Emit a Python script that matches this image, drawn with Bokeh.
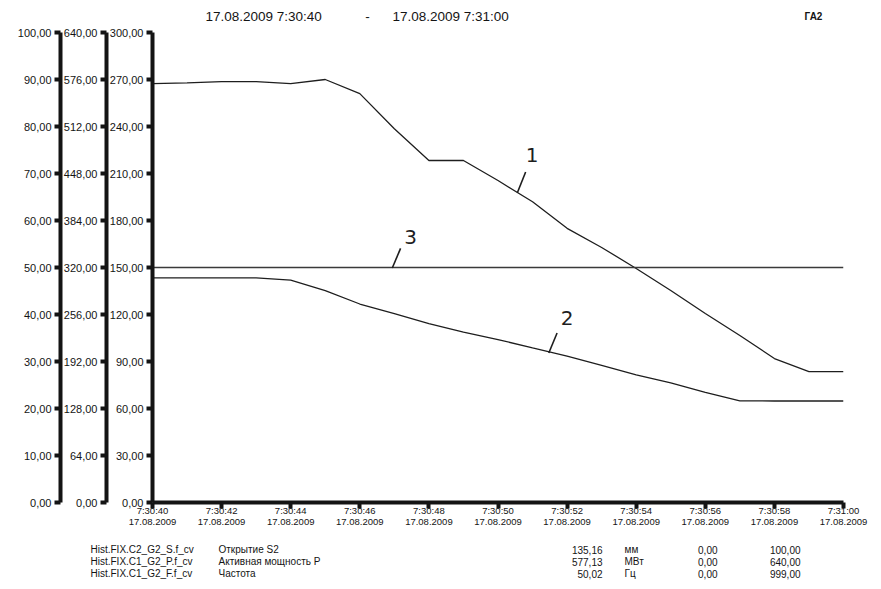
from bokeh.plotting import figure
from bokeh.models import Range1d, LinearAxis, FixedTicker
from bokeh.layouts import column
from bokeh.core.properties import value
from bokeh.embed import file_html
from bokeh.resources import INLINE

# ---- data ----
seconds = list(range(0, 21))
curve1 = [267.4, 267.8, 268.7, 268.7, 267.4, 270.0, 261.0, 238.6, 218.3, 218.3,
          205.5, 192.0, 175.0, 162.8, 149.4, 135.3, 120.6, 106.6, 91.9, 83.6, 83.6]
curve2 = [143.4, 143.4, 143.4, 143.4, 142.0, 135.3, 126.7, 120.6, 114.2, 108.8,
          104.0, 98.7, 93.5, 87.6, 81.5, 76.3, 70.3, 64.9, 64.8, 64.8, 64.8]
curve3 = [150.0] * 21

x_ticks = [0, 2, 4, 6, 8, 10, 12, 14, 16, 18, 20]
x_tick_labels = ["7:30:40", "7:30:42", "7:30:44", "7:30:46", "7:30:48", "7:30:50",
                 "7:30:52", "7:30:54", "7:30:56", "7:30:58", "7:31:00"]
x_date = "17.08.2009"
ax1_ticks = [0, 10, 20, 30, 40, 50, 60, 70, 80, 90, 100]
ax2_ticks = [0, 64, 128, 192, 256, 320, 384, 448, 512, 576, 640]
ax3_ticks = [0, 30, 60, 90, 120, 150, 180, 210, 240, 270, 300]

header_from = "17.08.2009 7:30:40"
header_to = "17.08.2009 7:31:00"
header_unit = "ГА2"

legend_tags = ["Hist.FIX.C2_G2_S.f_cv", "Hist.FIX.C1_G2_P.f_cv", "Hist.FIX.C1_G2_F.f_cv"]
legend_names = ["Открытие  S2", "Активная  мощность P", "Частота"]
legend_values = ["135,16", "577,13", "50,02"]
legend_units = ["мм", "МВт", "Гц"]
legend_min = ["0,00", "0,00", "0,00"]
legend_max = ["100,00", "640,00", "999,00"]

curve_ids = ["1", "3", "2"]


def fmt(v):
    return ("%.2f" % v).replace(".", ",")


FONT = "Liberation Sans"
INK = "#141414"
W = 881


def blank_fig(h):
    f = figure(width=W, height=h, x_range=Range1d(0, W), y_range=Range1d(h, 0),
               output_backend="svg", toolbar_location=None,
               min_border=0, min_border_left=0, min_border_right=0,
               min_border_top=0, min_border_bottom=0,
               x_axis_location=None, y_axis_location=None, frame_align=False)
    f.grid.visible = False
    f.outline_line_color = None
    return f


# ---- header ----
hd = blank_fig(24)
hd.text(x=[205, 392], y=[16, 16], text=[header_from, header_to], text_baseline="middle",
        text_font=value(FONT), text_font_size="13.5px", text_color=INK)
hd.text(x=[367], y=[16], text=["-"], text_baseline="middle", text_align="center",
        text_font=value(FONT), text_font_size="13.5px", text_color=INK)
hd.text(x=[813], y=[16], text=[header_unit], text_baseline="middle", text_align="center",
        text_font=value(FONT), text_font_size="10px", text_font_style="bold", text_color=INK)

# ---- main chart ----
p = figure(width=W, height=511, x_range=Range1d(0, 20), y_range=Range1d(0, 300),
           output_backend="svg", toolbar_location=None,
           min_border_left=152, min_border_right=38, min_border_top=8, min_border_bottom=33,
           x_axis_location=None, y_axis_location=None, frame_align=False)
p.grid.visible = False
p.outline_line_color = None

p.extra_y_ranges = {"a1": Range1d(0, 100), "a2": Range1d(0, 640)}


def style_axis(ax, ticks, std):
    ax.ticker = FixedTicker(ticks=ticks)
    ax.major_label_overrides = {t: fmt(t) for t in ticks}
    ax.axis_line_width = 4
    ax.axis_line_color = INK
    ax.major_tick_line_width = 4
    ax.major_tick_line_color = INK
    ax.major_tick_in = 0
    ax.major_tick_out = 6
    ax.minor_tick_line_color = None
    ax.major_label_standoff = std
    ax.major_label_text_font = FONT
    ax.major_label_text_font_size = "11px"
    ax.major_label_text_color = INK


ax3 = LinearAxis()
style_axis(ax3, ax3_ticks, 3)
p.add_layout(ax3, "left")
ax2 = LinearAxis(y_range_name="a2")
style_axis(ax2, ax2_ticks, 3)
p.add_layout(ax2, "left")
ax1 = LinearAxis(y_range_name="a1")
style_axis(ax1, ax1_ticks, 3)
p.add_layout(ax1, "left")

xa = LinearAxis()
xa.ticker = FixedTicker(ticks=x_ticks)
xa.major_label_overrides = {t: l + "\n" + x_date for t, l in zip(x_ticks, x_tick_labels)}
xa.axis_line_width = 4
xa.axis_line_color = INK
xa.major_tick_line_width = 4
xa.major_tick_line_color = INK
xa.major_tick_in = 0
xa.major_tick_out = 6
xa.minor_tick_line_color = None
xa.major_label_standoff = -4
xa.major_label_text_font = FONT
xa.major_label_text_font_size = "9.5px"
xa.major_label_text_color = INK
xa.major_label_text_line_height = 1.0
p.add_layout(xa, "below")

p.line(seconds, curve1, line_color="#1e1e1e", line_width=1.3)
p.line(seconds, curve2, line_color="#1e1e1e", line_width=1.3)
p.line(seconds, curve3, line_color="#3a3a3a", line_width=1.3)

# curve number annotations with leader strokes
p.segment(x0=[10.56, 6.94, 11.47], y0=[197.7, 149.7, 95.4],
          x1=[10.80, 7.18, 11.71], y1=[211.0, 162.2, 108.2],
          line_color="#1e1e1e", line_width=1.6)
p.text(x=[10.99, 7.47, 12.0], y=[221.8, 169.6, 117.8], text=curve_ids,
       text_align="center", text_baseline="middle",
       text_font=value("DejaVu Sans"), text_font_size="20px", text_color="#1e1e1e")

# ---- legend table ----
lg = blank_fig(54)
rows_y = [14, 26, 38]
cols = [(legend_tags, 90, "left"), (legend_names, 218, "left"),
        (legend_values, 602, "right"), (legend_units, 624, "left"),
        (legend_min, 717, "right"), (legend_max, 800, "right")]
for texts, xp, al in cols:
    lg.text(x=[xp] * 3, y=rows_y, text=texts, text_align=al, text_baseline="middle",
            text_font=value(FONT), text_font_size="10px", text_color=INK)

layout = column(hd, p, lg, spacing=0)
open("out.html", "w").write(file_html(layout, INLINE))
